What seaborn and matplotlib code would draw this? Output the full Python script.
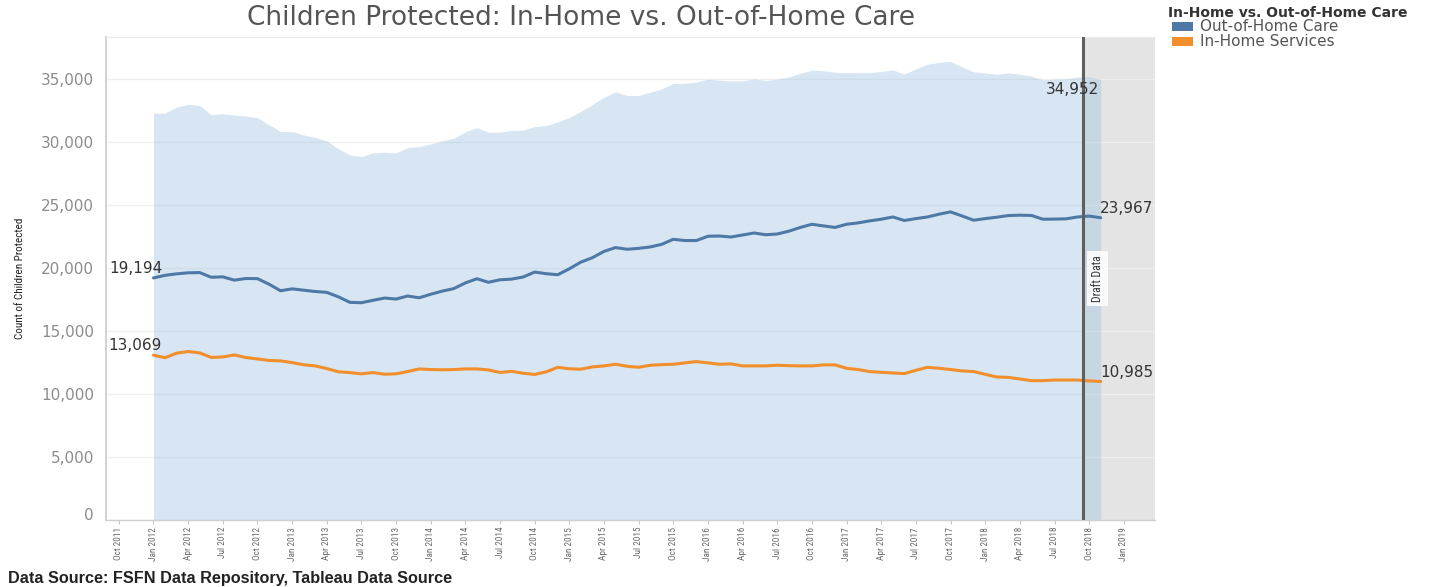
import numpy as np
import pandas as pd
import matplotlib
matplotlib.use("Agg")
import matplotlib.pyplot as plt
from matplotlib import font_manager as fm
from matplotlib.patches import Rectangle
import matplotlib.transforms as mtransforms
import seaborn as sns

# Monthly counts, Jan 2012 .. Nov 2018
out_of_home = [
    19194, 19400, 19520, 19600, 19620, 19250, 19280, 19020, 19150, 19140, 18700, 18180,
    18330, 18220, 18120, 18050, 17700, 17260, 17230, 17420, 17600, 17520, 17760, 17620,
    17900, 18150, 18350, 18800, 19130, 18850, 19050, 19100, 19270, 19660, 19530, 19450,
    19920, 20450, 20800, 21300, 21600, 21470, 21540, 21650, 21860, 22260, 22160, 22160,
    22500, 22520, 22440, 22600, 22760, 22620, 22680, 22900, 23200, 23450, 23320, 23200,
    23450, 23560, 23720, 23850, 24030, 23750, 23900, 24030, 24250, 24430, 24110, 23770,
    23900, 24010, 24140, 24170, 24150, 23850, 23860, 23880, 24030, 24100, 23967,
]
in_home = [
    13069, 12870, 13230, 13360, 13250, 12890, 12930, 13090, 12880, 12770, 12650, 12620,
    12480, 12310, 12220, 12010, 11750, 11690, 11590, 11690, 11560, 11590, 11770, 11980,
    11930, 11910, 11930, 11980, 11980, 11900, 11700, 11790, 11640, 11540, 11750, 12110,
    11990, 11960, 12140, 12220, 12350, 12190, 12110, 12270, 12320, 12350, 12460, 12560,
    12460, 12350, 12380, 12220, 12220, 12220, 12270, 12240, 12220, 12220, 12300, 12300,
    12030, 11930, 11770, 11710, 11660, 11610, 11870, 12110, 12030, 11930, 11820, 11770,
    11550, 11340, 11310, 11180, 11050, 11050, 11100, 11100, 11100, 11030, 10985,
]
series_names = ["Out-of-Home Care", "In-Home Services"]
series_colors = ["#4e79a7", "#f28e2b"]

x_tick_labels = [
    "Oct 2011", "Jan 2012", "Apr 2012", "Jul 2012", "Oct 2012", "Jan 2013", "Apr 2013",
    "Jul 2013", "Oct 2013", "Jan 2014", "Apr 2014", "Jul 2014", "Oct 2014", "Jan 2015",
    "Apr 2015", "Jul 2015", "Oct 2015", "Jan 2016", "Apr 2016", "Jul 2016", "Oct 2016",
    "Jan 2017", "Apr 2017", "Jul 2017", "Oct 2017", "Jan 2018", "Apr 2018", "Jul 2018",
    "Oct 2018", "Jan 2019",
]
y_ticks = [0, 5000, 10000, 15000, 20000, 25000, 30000, 35000]
draft_start = 80.5  # months after Jan 2012 where draft data begins

# ---------------------------------------------------------------------------
month = np.arange(len(out_of_home))
total = np.array(out_of_home) + np.array(in_home)
n = len(month)
df = pd.DataFrame({
    "month": np.concatenate([month, month]),
    "count": np.concatenate([out_of_home, in_home]),
    "care": [series_names[0]] * n + [series_names[1]] * n,
})

sns.set_theme(style="white")
plt.rcParams["font.family"] = ["DejaVu Sans"]

# pick a narrow face for axis annotations; scale sizes to the face found
_fonts = fm.fontManager.ttflist
_names = {f.name for f in _fonts}
if "Roboto Condensed" in _names:
    narrow, nscale = dict(family=["Roboto Condensed", "DejaVu Sans"]), 0.95
elif "Liberation Sans Narrow" in _names:
    narrow, nscale = dict(family=["Liberation Sans Narrow", "DejaVu Sans"]), 1.0
elif any(f.name == "DejaVu Sans" and f.stretch == "condensed" for f in _fonts):
    narrow, nscale = dict(family=["DejaVu Sans"], stretch="condensed"), 0.82
else:
    narrow, nscale = dict(family=["Roboto", "DejaVu Sans"]), 0.84

W, H = 1430, 587
fig = plt.figure(figsize=(W / 100, H / 100), dpi=100)
ax = fig.add_axes([106 / W, (H - 520) / H, (1155 - 106) / W, (520 - 37) / H])

x_min, x_max = -4.11, 86.7
ax.axvspan(draft_start, x_max, color="#e4e4e4", lw=0, zorder=0.2)
ax.fill_between(month, total, color=(160 / 255, 196 / 255, 226 / 255),
                alpha=0.42, lw=0, zorder=1)
sns.lineplot(data=df, x="month", y="count", hue="care",
             palette=dict(zip(series_names, series_colors)),
             linewidth=2.2, legend=False, ax=ax, zorder=3)
ax.axvline(draft_start, color="#5f5f5f", lw=2.2, zorder=4)

ax.set_xlim(x_min, x_max)
ax.set_ylim(0, 38300)
ax.set_xlabel("")
ax.set_ylabel("")

ax.set_yticks(y_ticks)
ax.set_yticklabels([f"{v:,}" for v in y_ticks])
ax.tick_params(axis="y", length=0, pad=8.6, labelsize=11, labelcolor="#8c8c8c")
# keep the zero label clear of the baseline
ax.get_yticklabels()[0].set_transform(
    ax.get_yticklabels()[0].get_transform()
    + mtransforms.ScaledTranslation(0, 6 / 100, fig.dpi_scale_trans))
xt = np.arange(-3, 85, 3)
ax.set_xticks(xt)
ax.set_xticklabels(x_tick_labels, rotation=90, fontsize=7.0 * nscale,
                   color="#6a6a6a", **narrow)
ax.tick_params(axis="x", length=3, width=0.8, color="#c8c8c8", pad=2, bottom=True)

ax.yaxis.grid(True, color="#efefef", lw=0.9, zorder=0.5)
ax.xaxis.grid(False)
ax.set_axisbelow(True)
for side, col, lw in [("left", "#cfcfcf", 1.3), ("bottom", "#cfcfcf", 1.0),
                      ("top", "#ececec", 0.8)]:
    ax.spines[side].set_color(col)
    ax.spines[side].set_linewidth(lw)
ax.spines["right"].set_visible(False)

# value labels at the first and last points
lab_kw = dict(textcoords="offset pixels", ha="center", va="center",
              fontsize=11, color="#333333", zorder=6)
ax.annotate(f"{out_of_home[0]:,}", (month[0], out_of_home[0]), xytext=(-18, 9), **lab_kw)
ax.annotate(f"{in_home[0]:,}", (month[0], in_home[0]), xytext=(-18, 9.5), **lab_kw)
ax.annotate(f"{out_of_home[-1]:,}", (month[-1], out_of_home[-1]), xytext=(26, 9), **lab_kw)
ax.annotate(f"{in_home[-1]:,}", (month[-1], in_home[-1]), xytext=(26, 9), **lab_kw)
ax.annotate(f"{total[-1]:,}", (month[-1], total[-1]), xytext=(-28, -10), **lab_kw)

trans = mtransforms.blended_transform_factory(ax.transData, ax.transAxes)
ax.text(draft_start + 1.2, 0.5, "Draft Data", transform=trans, rotation=90,
        ha="center", va="center", fontsize=8.8 * nscale, color="#333333",
        zorder=6, bbox=dict(boxstyle="square,pad=0.35", fc="white", ec="none", alpha=0.85),
        **narrow)

# titles and notes
fig.text(581 / W, 1 - 18 / H, "Children Protected: In-Home vs. Out-of-Home Care",
         ha="center", va="center", fontsize=19, color="#555555")
fig.text(20 / W, 1 - 278 / H, "Count of Children Protected", rotation=90,
         ha="center", va="center", fontsize=8.4 * nscale, color="#222222", **narrow)
fig.text(8 / W, 1 - 579 / H, "Data Source: FSFN Data Repository, Tableau Data Source",
         ha="left", va="center", family=["Liberation Sans", "DejaVu Sans"],
         fontsize=11.7, fontweight="bold", color="#222222")

# colour legend
fig.text(1168 / W, 1 - 12.7 / H, "In-Home vs. Out-of-Home Care", ha="left", va="center",
         fontsize=10, fontweight="bold", color="#333333")
for k, (nm, col) in enumerate(zip(series_names, series_colors)):
    yc = 26.7 + 15 * k
    fig.patches.append(Rectangle((1172 / W, 1 - (yc + 4.5) / H), 21 / W, 9 / H,
                                 transform=fig.transFigure, facecolor=col,
                                 edgecolor="none", figure=fig))
    fig.text(1200 / W, 1 - yc / H, nm, ha="left", va="center",
             fontsize=11, color="#555555")

fig.savefig("out.png", dpi=100)
